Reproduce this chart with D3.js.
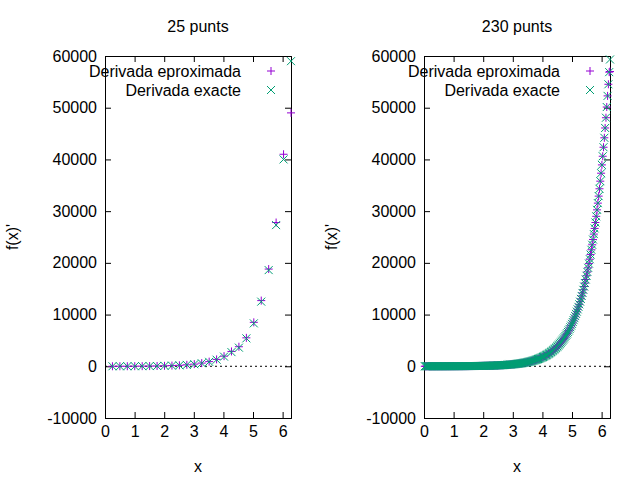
<!DOCTYPE html>
<html><head><meta charset="utf-8">
<script src="https://cdn.jsdelivr.net/npm/d3@7"></script>
<style>body{margin:0;background:#fff}text{font-family:"Liberation Sans",Arial,sans-serif;font-size:16px}</style>
</head><body>
<svg id="c" width="640" height="480"></svg>
<script>
// 25 punts: x = i*2pi/25
var exact25 = [5,8,12,18,27,40,58,85,125,185,270,400,590,860,1270,1870,2740,3600,5400,8300,12500,18600,27300,40000,59000];
var approx25 = [5,8,12,19,28,42,61,89,131,194,283,420,620,900,1330,1960,2870,3780,5500,8500,12700,18800,27800,41000,49000];

// 230 punts: x = i*2pi/230
var exact230 = [
4,4,4,4,5,5,5,5,5,6, 6,6,6,7,7,7,8,8,8,9, 9,9,10,10,11,11,12,12,13,13,
14,14,15,15,16,17,18,18,19,20, 21,22,23,24,25,26,27,28,29,30,
32,33,34,36,38,39,41,43,44,46, 48,50,53,55,57,60,62,65,68,71,
74,77,80,83,87,91,95,99,103,107, 112,117,122,127,133,138,144,150,157,164,
171,178,186,194,202,211,220,229,239,249, 260,271,283,295,308,321,335,349,364,380,
396,413,431,449,469,489,510,532,555,578, 603,629,656,684,714,744,776,810,845,881,
919,958,1000,1043,1088,1134,1183,1234,1287,1342, 1400,1460,1523,1588,1657,1728,1802,1880,1961,2045,
2133,2225,2320,2420,2524,2633,2746,2864,2987,3116, 3249,3389,3534,3686,3845,4010,4183,4362,4550,4746,
4950,5163,5385,5616,5858,6110,6373,6646,6932,7230, 7541,7865,8203,8556,8924,9308,9708,10126,10561,11015,
11488,11982,12497,13034,13595,14180,14790,15425,16089,16781, 17500,18253,19037,19856,20710,21600,22530,23498,24509,25562,
26660,27806,29001,30249,31550,32906,34322,35796,37337,38942, 40615,42361,44181,46082,48064,50131,52287,54534,56880,59327];
var approx230 = exact230.map(function(v, i) { return i == exact230.length - 1 ? 57000 : v; });

var xTicks = [0,1,2,3,4,5,6];
var yTicks = [-10000,0,10000,20000,30000,40000,50000,60000];
var labels = ["Derivada eproximada", "Derivada exacte"];
var PURPLE = "#9400d3", GREEN = "#009e73";

var svg = d3.select("#c");

function panel(left, right, title, approx, exact) {
    var n = exact.length;
    var step = 2 * Math.PI / n;
    var x = d3.scaleLinear().domain([0, 2 * Math.PI]).range([left, right]);
    var y = d3.scaleLinear().domain([-10000, 60000]).range([418, 56]);
    var g = svg.append("g");

    g.append("text").attr("x", (left + right) / 2).attr("y", 32).attr("text-anchor", "middle").text(title);

    // zero line
    g.append("line").attr("x1", left).attr("x2", right).attr("y1", y(0)).attr("y2", y(0))
        .attr("stroke", "#000").attr("stroke-dasharray", "2,3");

    var xa = g.append("g").attr("transform", "translate(0,418)")
        .call(d3.axisBottom(x).tickValues(xTicks).tickSize(-6).tickPadding(8).tickFormat(function(d) { return String(d); }));
    var xt = g.append("g").attr("transform", "translate(0,56)")
        .call(d3.axisTop(x).tickValues(xTicks).tickSize(-6).tickFormat(""));
    var ya = g.append("g").attr("transform", "translate(" + left + ",0)")
        .call(d3.axisLeft(y).tickValues(yTicks).tickSize(-6).tickPadding(8).tickFormat(function(d) { return String(d); }));
    var yr = g.append("g").attr("transform", "translate(" + right + ",0)")
        .call(d3.axisRight(y).tickValues(yTicks).tickSize(-6).tickFormat(""));
    [xa, xt, ya, yr].forEach(function(a) {
        a.selectAll("path.domain").attr("stroke", "#000");
        a.selectAll("text").style("font-size", "16px").style("font-family", "Liberation Sans, Arial, sans-serif").attr("fill", "#000");
    });

    g.append("text").attr("x", (left + right) / 2).attr("y", 472).attr("text-anchor", "middle").text("x");
    g.append("text").attr("transform", "translate(" + (left - 87) + ",237) rotate(-90)")
        .attr("text-anchor", "middle").text("f(x)'");

    var s = 4;
    g.selectAll(".plus").data(approx).enter().append("path")
        .attr("d", function(d, i) { var px = x((i + 1) * step), py = y(d);
            return "M" + (px - s) + "," + py + "H" + (px + s) + "M" + px + "," + (py - s) + "V" + (py + s); })
        .attr("stroke", PURPLE).attr("fill", "none");
    g.selectAll(".cross").data(exact).enter().append("path")
        .attr("d", function(d, i) { var px = x((i + 1) * step), py = y(d);
            return "M" + (px - s) + "," + (py - s) + "L" + (px + s) + "," + (py + s) + "M" + (px - s) + "," + (py + s) + "L" + (px + s) + "," + (py - s); })
        .attr("stroke", GREEN).attr("fill", "none");

    // legend
    var lx = left + 136, sx = left + 166;
    [0, 1].forEach(function(k) {
        var ly = 71 + k * 19;
        g.append("text").attr("x", lx).attr("y", ly + 6).attr("text-anchor", "end").text(labels[k]);
        var p = k == 0
            ? "M" + (sx - s) + "," + ly + "H" + (sx + s) + "M" + sx + "," + (ly - s) + "V" + (ly + s)
            : "M" + (sx - s) + "," + (ly - s) + "L" + (sx + s) + "," + (ly + s) + "M" + (sx - s) + "," + (ly + s) + "L" + (sx + s) + "," + (ly - s);
        g.append("path").attr("d", p).attr("stroke", k == 0 ? PURPLE : GREEN).attr("fill", "none");
    });
}

panel(105, 291, "25 punts", approx25, exact25);
panel(424, 610, "230 punts", approx230, exact230);
</script>
</body></html>
